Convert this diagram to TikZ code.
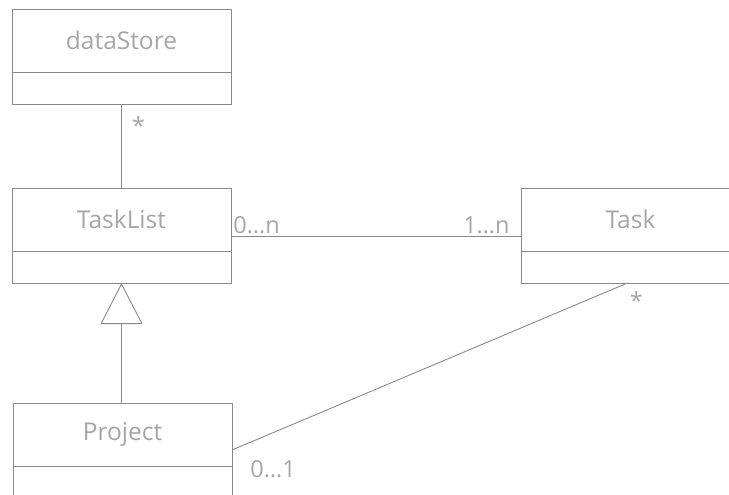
\documentclass[tikz,border=0pt]{standalone}
\usepackage{fontspec}
\setmainfont{Open Sans}
\usetikzlibrary{positioning,arrows.meta}
\definecolor{umlline}{RGB}{138,138,138}
\definecolor{umltext}{RGB}{166,166,166}
\begin{document}
\begin{tikzpicture}[x=1pt,y=-1pt,
  classname/.style={draw=umlline,line width=0.9pt,minimum width=219pt,minimum height=63pt,
    inner sep=0pt,outer sep=0pt,text=umltext,font=\fontsize{24.5}{28}\selectfont},
  classattr/.style={draw=umlline,line width=0.9pt,minimum width=219pt,minimum height=32pt,
    inner sep=0pt,outer sep=0pt},
  assoc/.style={draw=umlline,line width=0.9pt},
  mult/.style={text=umltext,font=\fontsize{23.5}{27}\selectfont,inner sep=2pt}]
\useasboundingbox (0,0) rectangle (729,495);
% classes
\node[classname] (dataStore) at (121.5,40.5) {dataStore};
\node[classattr,below=0pt of dataStore] (dataStoreAttr) {};
\node[classname] (TaskList) at (121.5,219.5) {TaskList};
\node[classattr,below=0pt of TaskList] (TaskListAttr) {};
\node[classname] (Task) at (630.5,219.5) {Task};
\node[classattr,below=0pt of Task] (TaskAttr) {};
\node[classname] (Project) at (122.5,434.5) {Project};
\node[classattr,below=0pt of Project] (ProjectAttr) {};
% associations
\draw[assoc] (dataStoreAttr.south) -- (TaskList.north)
  node[mult,pos=0.12,anchor=north west,xshift=8pt] {*};
\draw[assoc] ([yshift=-16.5pt]TaskList.east) -- ([yshift=-16.5pt]Task.west)
  node[mult,pos=0,anchor=south west] {0…n}
  node[mult,pos=1,anchor=south east,xshift=-9pt] {1…n};
\draw[assoc] ([yshift=-15.5pt]Project.east) -- ([xshift=-3pt]TaskAttr.south)
  node[mult,pos=0,anchor=north west,xshift=16pt,yshift=-8pt] {0…1}
  node[mult,pos=1,anchor=north west,yshift=-6pt] {*};
% generalization
\draw[assoc,-{Triangle[open,length=41pt,width=42pt]}] (TaskListAttr.south |- Project.north) -- (TaskListAttr.south);
\end{tikzpicture}
\end{document}
